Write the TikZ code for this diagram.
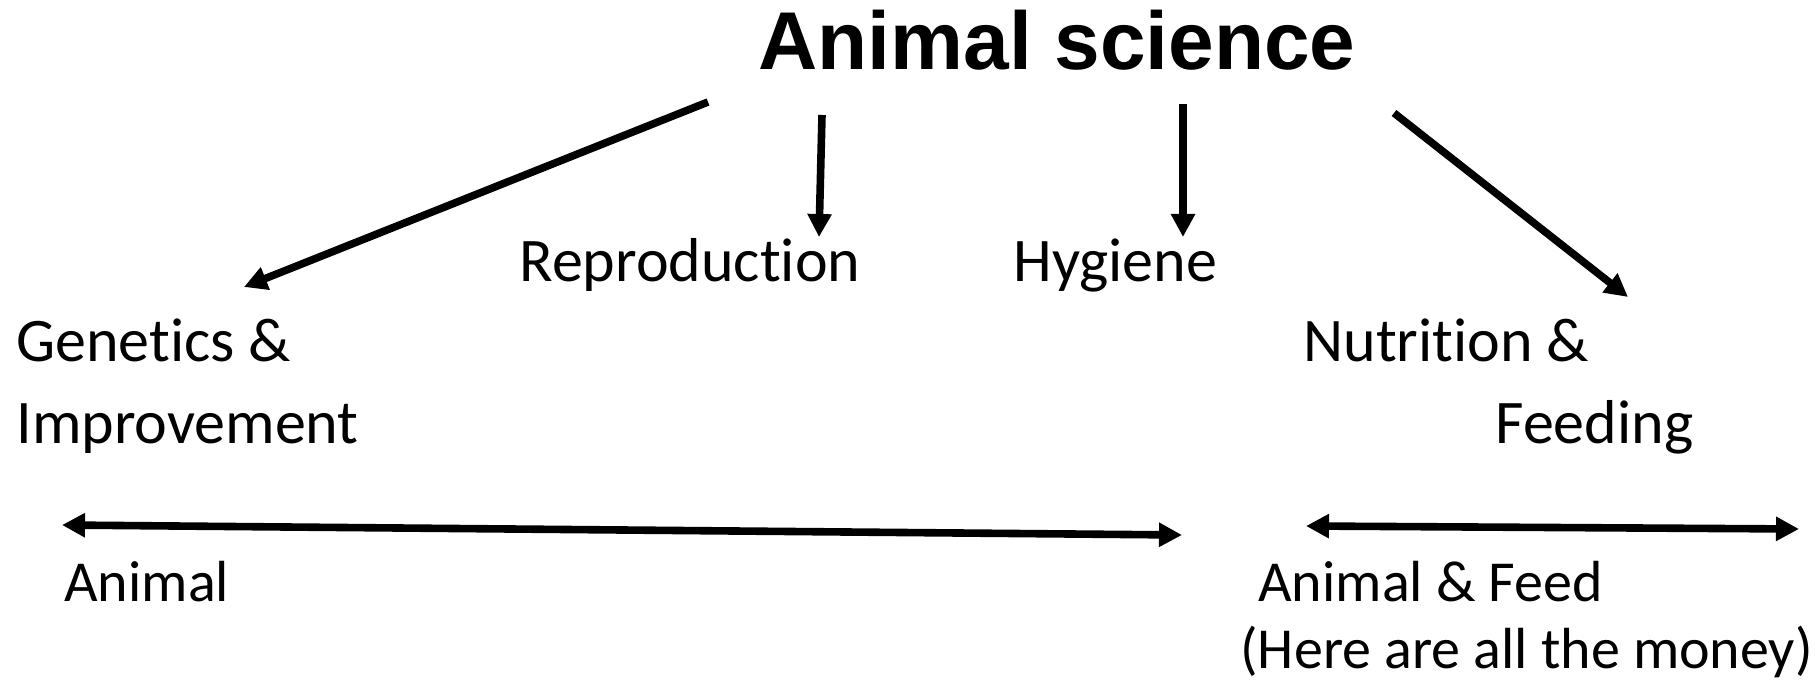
\documentclass[tikz,border=0pt]{standalone}
\usepackage{fontspec}
\setmainfont{Carlito}[Ligatures={NoCommon,NoContextual}]
\newfontfamily\titlefont{Liberation Sans}
\newcommand\nolig{\kern0pt }
\usetikzlibrary{arrows.meta}
\begin{document}
\begin{tikzpicture}[x=0.5pt,y=-0.5pt,
  lbl/.style={anchor=base west, inner sep=0pt, font=\fontsize{31pt}{41pt}\selectfont},
  sml/.style={anchor=base west, inner sep=0pt, font=\fontsize{29pt}{33.5pt}\selectfont},
  ttl/.style={anchor=base west, inner sep=0pt, font=\titlefont\bfseries\fontsize{41pt}{49pt}\selectfont},
  tip/.tip={Triangle[length=11.5pt,width=11.5pt]},
  conn/.style={line width=3.8pt, -tip},
  dbl/.style={line width=3.8pt, tip-tip}]
\useasboundingbox (0,0) rectangle (1820,689);
% texts
\node[ttl] (title) at (758,70) {Animal science};
\node[lbl] (repro) at (519,282) {Reproduct\nolig ion};
\node[lbl] (hyg) at (1013,282) {Hygiene};
\node[lbl] (gen) at (16,362) {\begin{tabular}[t]{@{}l@{}}Genet\nolig ics \&\\Improvement\end{tabular}};
\node[lbl] (nut) at (1303,362) {\begin{tabular}[t]{@{}l@{}}Nutrit\nolig ion \&\\\hspace*{96pt}Feeding\end{tabular}};
\node[sml] (animal) at (64,601) {Animal};
\node[sml] (feed) at (1240,601) {\begin{tabular}[t]{@{}l@{}}\hspace*{9pt}Animal \& Feed\\(Here are all the money)\end{tabular}};
% connector end points
\coordinate (g0) at (708,102);  \coordinate (g1) at (244,287);
\coordinate (r0) at (822,115);  \coordinate (r1) at (819,237);
\coordinate (h0) at (1183,104); \coordinate (h1) at (1183,237);
\coordinate (n0) at (1394,113); \coordinate (n1) at (1628,297);
\coordinate (d0) at (62,525);   \coordinate (d1) at (1182,535);
\coordinate (e0) at (1306,526); \coordinate (e1) at (1799,529);
% connectors
\draw[conn] (g0) -- (g1);
\draw[conn] (r0) -- (r1);
\draw[conn] (h0) -- (h1);
\draw[conn] (n0) -- (n1);
\draw[dbl] (d0) -- (d1);
\draw[dbl] (e0) -- (e1);
\end{tikzpicture}
\end{document}
